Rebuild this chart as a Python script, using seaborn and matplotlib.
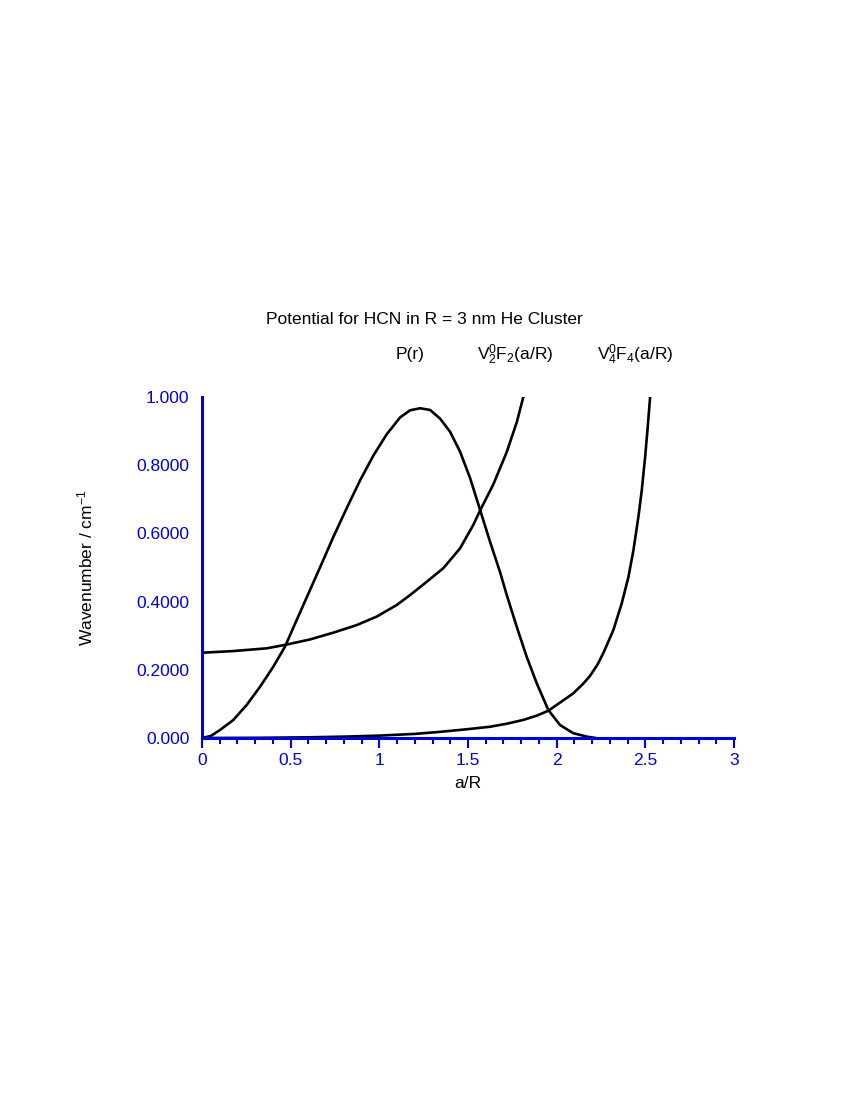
import numpy as np
import matplotlib
matplotlib.use('Agg')
import matplotlib.pyplot as plt
import seaborn as sns
from matplotlib.ticker import MultipleLocator, FixedLocator, FixedFormatter

# curves (x = a/R, y = wavenumber / cm^-1)
p_x = [0.0, 0.05, 0.1015, 0.177, 0.252, 0.327, 0.402, 0.468, 0.534, 0.609,
       0.684, 0.741, 0.816, 0.891, 0.966, 1.042, 1.117, 1.173, 1.230, 1.286,
       1.342, 1.399, 1.455, 1.512, 1.568, 1.624, 1.681, 1.718, 1.775, 1.831,
       1.888, 1.953, 2.019, 2.094, 2.170, 2.22]
p_y = [0.0, 0.006, 0.0235, 0.053, 0.097, 0.150, 0.209, 0.268, 0.346, 0.434,
       0.522, 0.590, 0.674, 0.755, 0.828, 0.891, 0.940, 0.961, 0.967, 0.962,
       0.937, 0.898, 0.840, 0.762, 0.669, 0.576, 0.486, 0.420, 0.326, 0.238,
       0.160, 0.082, 0.038, 0.014, 0.004, 0.0]

v2_x = [0.0, 0.177, 0.365, 0.468, 0.609, 0.741, 0.872, 0.985, 1.098, 1.173,
        1.267, 1.361, 1.455, 1.530, 1.568, 1.643, 1.718, 1.775, 1.812]
v2_y = [0.250, 0.255, 0.263, 0.273, 0.289, 0.309, 0.331, 0.356, 0.390, 0.419,
        0.458, 0.498, 0.556, 0.625, 0.667, 0.744, 0.838, 0.926, 1.0]

v4_x = [0.0, 0.3, 0.6, 0.8, 1.0, 1.2, 1.342, 1.5, 1.624, 1.72, 1.812, 1.89,
        1.953, 2.0, 2.094, 2.151, 2.188, 2.23, 2.264, 2.320, 2.367, 2.405,
        2.433, 2.461, 2.480, 2.499, 2.512, 2.527]
v4_y = [0.0, 0.0005, 0.002, 0.004, 0.007, 0.012, 0.018, 0.026, 0.033, 0.042,
        0.053, 0.066, 0.080, 0.097, 0.131, 0.160, 0.182, 0.215, 0.250, 0.317,
        0.395, 0.473, 0.551, 0.649, 0.727, 0.825, 0.903, 1.0]

x_ticks = [0, 0.5, 1, 1.5, 2, 2.5, 3]
x_ticklabels = ['0', '0.5', '1', '1.5', '2', '2.5', '3']
y_ticks = [0, 0.2, 0.4, 0.6, 0.8, 1.0]
y_ticklabels = ['0.000', '0.2000', '0.4000', '0.6000', '0.8000', '1.000']

blue = '#0000DD'

sns.set_theme(style='white')
plt.rcParams['font.family'] = ['Liberation Sans', 'DejaVu Sans']
plt.rcParams['mathtext.fontset'] = 'custom'
plt.rcParams['mathtext.rm'] = 'Liberation Sans'
plt.rcParams['mathtext.it'] = 'Liberation Sans:italic'
plt.rcParams['mathtext.default'] = 'regular'
plt.rcParams['text.color'] = 'black'
plt.rcParams['axes.labelcolor'] = 'black'

fig = plt.figure(figsize=(8.5, 11), dpi=100)
ax = fig.add_axes([202/850, 362/1100, 532/850, 341/1100])

for xs, ys in [(p_x, p_y), (v2_x, v2_y), (v4_x, v4_y)]:
    sns.lineplot(x=xs, y=ys, color='black', lw=1.9, ax=ax, sort=False)

ax.set_xlim(0, 3)
ax.set_ylim(0, 1)

for s in ['top', 'right']:
    ax.spines[s].set_visible(False)
for s in ['left', 'bottom']:
    ax.spines[s].set_color(blue)
    ax.spines[s].set_linewidth(2.2)
    ax.spines[s].set_zorder(3)

ax.xaxis.set_major_locator(FixedLocator(x_ticks))
ax.xaxis.set_major_formatter(FixedFormatter(x_ticklabels))
ax.xaxis.set_minor_locator(MultipleLocator(0.1))
ax.yaxis.set_major_locator(FixedLocator(y_ticks))
ax.yaxis.set_major_formatter(FixedFormatter(y_ticklabels))

ax.tick_params(axis='x', which='major', direction='out', length=7.5, width=1.5,
               color=blue, labelcolor=blue, labelsize=12.5, pad=3, bottom=True)
ax.tick_params(axis='x', which='minor', direction='out', length=4.5, width=1.5,
               color=blue, bottom=True)
ax.tick_params(axis='y', which='both', length=0, labelcolor=blue, labelsize=12.5,
               pad=9, left=True)

ax.set_xlabel('a/R', fontsize=12.5)
ax.xaxis.set_label_coords(0.5, -0.112)
ax.set_ylabel('Wavenumber / cm$^{-1}$', fontsize=12.5)
ax.yaxis.set_label_coords(-0.2, 0.5)
ax.grid(False)

fig.text(0.499, 1 - 320/1100, 'Potential for HCN in R = 3 nm He Cluster',
         ha='center', va='center', fontsize=12.5)
fig.text(410.5/850, 1 - 355/1100, 'P(r)', ha='center', va='center', fontsize=12.5)
fig.text(477/850, 1 - 355/1100, r'V$_2^0$F$_2$(a/R)', ha='left', va='center', fontsize=12.5)
fig.text(597/850, 1 - 355/1100, r'V$_4^0$F$_4$(a/R)', ha='left', va='center', fontsize=12.5)

fig.savefig('out.png', dpi=100)
